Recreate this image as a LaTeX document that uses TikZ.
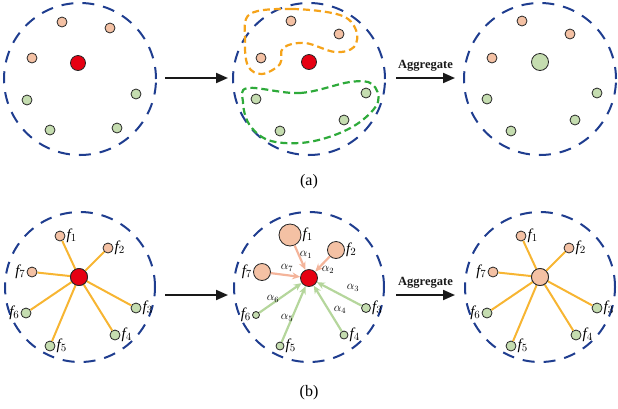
\documentclass[tikz,border=0pt]{standalone}
\usepackage{fontspec}
\setmainfont{Liberation Serif}
\usetikzlibrary{arrows.meta}
\definecolor{cred}{HTML}{E60012}
\definecolor{cpeach}{HTML}{F4C1A4}
\definecolor{cgreen}{HTML}{C5DDB0}
\definecolor{cblue}{HTML}{1F3D8F}
\definecolor{corange}{HTML}{F5A31A}
\definecolor{cdgreen}{HTML}{2EAA3A}
\definecolor{cyel}{HTML}{F7B532}
\definecolor{carp}{HTML}{F4B49A}
\definecolor{carg}{HTML}{B5D69C}
\tikzset{
 ring/.style={draw=cblue,line width=2pt,dash pattern=on 12pt off 9pt},
 dot/.style={circle,draw=black!85,line width=0.8pt,inner sep=0pt,minimum size=#1},
 pe/.style={dot=#1,fill=cpeach}, gr/.style={dot=#1,fill=cgreen}, rd/.style={dot=#1,fill=cred},
 edge/.style={cyel,line width=2pt},
 big/.style={-{Triangle[length=12pt,width=10pt]},line width=2pt,black!90},
 lab/.style={font=\fontsize{15}{15}\selectfont\itshape,inner sep=1pt},
 al/.style={font=\fontsize{12}{12}\selectfont,inner sep=0.5pt},
 agg/.style={above=2pt,font=\fontsize{12.5}{12.5}\selectfont\bfseries}
}
\begin{document}
\begin{tikzpicture}[x=1pt,y=-1pt]
\useasboundingbox (0,0) rectangle (618,408);
% top rings
\foreach \cx/\n in {80/a,309/b,540/c}{\node[ring,circle,minimum size=152pt,inner sep=0pt] (ring\n) at (\cx,79) {};}
% top left
\node[rd=15pt] (ac) at (78,63) {};
\foreach \x/\y/\s/\i in {62/22/pe/1,110/28/pe/2,32/58/pe/3,27/100/gr/4,136/94/gr/5,50/130/gr/6,117/128/gr/7}
 \node[\s=10pt] (a\i) at (\x,\y) {};
% top middle
\node[rd=15pt] (bc) at (309,62) {};
\foreach \x/\y/\s/\i in {291/21/pe/1,339/34/pe/2,261/58/pe/3,256/99/gr/4,366/93/gr/5,280/131/gr/6,344/120/gr/7}
 \node[\s=10pt] (b\i) at (\x,\y) {};
\draw[corange,line width=2.2pt,dash pattern=on 7pt off 4pt] plot[smooth cycle,tension=0.6] coordinates
 {(250,14) (292,9) (340,15) (356,30) (354,47) (335,52) (305,43) (283,48) (280,64) (262,74) (248,66) (245,40)};
\draw[cdgreen,line width=2.2pt,dash pattern=on 7pt off 4pt] plot[smooth cycle,tension=0.6] coordinates
 {(248,88) (300,93) (350,82) (372,84) (378,102) (360,122) (332,136) (300,143) (268,140) (249,124) (243,102)};
% top right
\node[gr=17pt] (cc) at (540,62) {};
\foreach \x/\y/\i in {522/21/1,570/34/2,492/58/3}\node[pe=10pt] (c\i) at (\x,\y) {};
\foreach \x/\y/\i in {487/99/4,597/93/5,511/131/6,575/120/7}\node[gr=10pt] (c\i) at (\x,\y) {};
% top arrows
\coordinate (t1s) at (165,78); \coordinate (t1e) at (228,78);
\draw[big] (t1s) -- (t1e);
\coordinate (t2s) at (396,78); \coordinate (t2e) at (455,78);
\draw[big] (t2s) -- node[agg] (ag1) {Aggregate} (t2e);
\node[font=\fontsize{16}{16}\selectfont] (la) at (309,182) {(a)};
% bottom rings
\foreach \cx/\n in {80/d,309/e,540/f}{\node[ring,circle,minimum size=150pt,inner sep=0pt] (ring\n) at (\cx,287) {};}
% bottom left
\node[rd=17pt] (dc) at (79,277) {};
\foreach \x/\y/\s/\i/\p/\q in {60/236/pe/1/east/west,108/248/pe/2/east/west,136/308/gr/3/east/west,115/335/gr/4/east/west,50/346/gr/5/east/west,26/313/gr/6/west/east,32/272/pe/7/west/east}{
 \node[\s=10pt] (d\i) at (\x,\y) {};
 \draw[edge] (dc) -- (d\i);
 \node[lab,anchor=\q] (dl\i) at (d\i.\p) {f$_{\i}$};}
\node[rd=17pt] at (dc) {};
% bottom middle
\node[rd=17pt] (ec) at (309,278) {};
\foreach \x/\y/\s/\d/\i/\p/\q in {290/235/pe/22pt/1/east/west,336/250/pe/17pt/2/east/west,366/308/gr/9pt/3/east/west,344/335/gr/8pt/4/east/west,280/346/gr/8pt/5/east/west,256/315/gr/7pt/6/west/east,262/272/pe/17pt/7/west/east}{
 \node[\s=\d] (e\i) at (\x,\y) {};
 \node[lab,anchor=\q] (el\i) at (e\i.\p) {f$_{\i}$};}
\foreach \i in {1,2,7}\draw[-{Stealth[length=8pt,width=7pt]},carp,line width=2.2pt] (e\i) -- (ec);
\foreach \i in {3,4,5,6}\draw[-{Stealth[length=8pt,width=7pt]},carg,line width=2.2pt] (e\i) -- (ec);
\foreach \x/\y/\i in {306/255/1,328/270/2,353/288/3,340/310/4,287/318/5,273/299/6,287/268/7}
 \node[al] (a\i l) at (\x,\y) {$\alpha_{\i}$};
% bottom right
\node[pe=17pt] (fc) at (540,277) {};
\foreach \x/\y/\s/\i/\p/\q in {521/236/pe/1/east/west,569/248/pe/2/east/west,597/308/gr/3/east/west,576/335/gr/4/east/west,511/346/gr/5/east/west,487/313/gr/6/west/east,493/272/pe/7/west/east}{
 \node[\s=10pt] (f\i) at (\x,\y) {};
 \draw[edge] (fc) -- (f\i);
 \node[lab,anchor=\q] (fl\i) at (f\i.\p) {f$_{\i}$};}
\node[pe=17pt] at (fc) {};
\coordinate (b1s) at (165,295); \coordinate (b1e) at (228,295);
\draw[big] (b1s) -- (b1e);
\coordinate (b2s) at (396,295); \coordinate (b2e) at (455,295);
\draw[big] (b2s) -- node[agg] (ag2) {Aggregate} (b2e);
\node[font=\fontsize{16}{16}\selectfont] (lb) at (309,393) {(b)};
\end{tikzpicture}
\end{document}
